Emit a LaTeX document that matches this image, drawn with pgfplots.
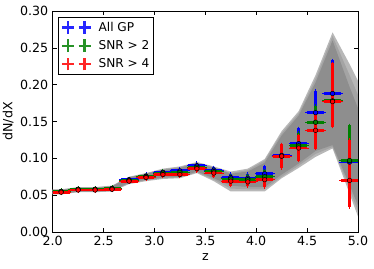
\documentclass[border=0pt]{standalone}
\usepackage{fontspec}
\setmainfont{DejaVu Sans}
\usepackage{pgfplots}
\pgfplotsset{compat=1.18}
\usepackage{pgfplotstable}

\definecolor{mplblue}{RGB}{0,0,255}
\definecolor{mplgreen}{RGB}{0,128,0}
\definecolor{mplred}{RGB}{255,0,0}
\definecolor{bandO}{RGB}{184,184,184}
\definecolor{bandM}{RGB}{164,164,164}
\definecolor{bandI}{RGB}{142,142,142}

\pgfplotstableread{
x y ex eyp eym
2.083 0.055 0.0833 0.002 0.002
2.250 0.058 0.0833 0.002 0.002
2.417 0.058 0.0833 0.002 0.002
2.583 0.059 0.0833 0.002 0.002
2.750 0.071 0.0833 0.002 0.002
2.917 0.076 0.0833 0.003 0.003
3.083 0.081 0.0833 0.003 0.003
3.250 0.083 0.0833 0.003 0.003
3.417 0.090 0.0833 0.004 0.004
3.583 0.084 0.0833 0.004 0.004
3.750 0.074 0.0833 0.005 0.005
3.917 0.073 0.0833 0.006 0.006
4.083 0.079 0.0833 0.010 0.009
4.250 0.104 0.0833 0.015 0.014
4.417 0.120 0.0833 0.021 0.020
4.583 0.162 0.0833 0.030 0.030
4.750 0.188 0.0833 0.045 0.031
4.917 0.095 0.0833 0.050 0.045
}\allgp

\pgfplotstableread{
x y ex eyp eym
2.083 0.055 0.0833 0.002 0.002
2.250 0.058 0.0833 0.002 0.002
2.417 0.058 0.0833 0.002 0.002
2.583 0.059 0.0833 0.002 0.002
2.750 0.070 0.0833 0.002 0.002
2.917 0.075 0.0833 0.003 0.003
3.083 0.080 0.0833 0.003 0.003
3.250 0.081 0.0833 0.003 0.003
3.417 0.088 0.0833 0.004 0.004
3.583 0.082 0.0833 0.004 0.004
3.750 0.072 0.0833 0.005 0.005
3.917 0.071 0.0833 0.006 0.006
4.083 0.075 0.0833 0.009 0.009
4.250 0.103 0.0833 0.015 0.015
4.417 0.117 0.0833 0.018 0.018
4.583 0.149 0.0833 0.022 0.022
4.750 0.178 0.0833 0.045 0.035
4.917 0.097 0.0833 0.048 0.048
}\snrtwo

\pgfplotstableread{
x y ex eyp eym
2.083 0.054 0.0833 0.002 0.002
2.250 0.057 0.0833 0.002 0.002
2.417 0.057 0.0833 0.002 0.002
2.583 0.058 0.0833 0.002 0.002
2.750 0.069 0.0833 0.002 0.002
2.917 0.074 0.0833 0.003 0.003
3.083 0.078 0.0833 0.003 0.003
3.250 0.078 0.0833 0.003 0.003
3.417 0.086 0.0833 0.004 0.004
3.583 0.080 0.0833 0.005 0.005
3.750 0.069 0.0833 0.006 0.006
3.917 0.068 0.0833 0.006 0.006
4.083 0.071 0.0833 0.010 0.010
4.250 0.103 0.0833 0.016 0.016
4.417 0.114 0.0833 0.017 0.017
4.583 0.138 0.0833 0.022 0.025
4.750 0.177 0.0833 0.052 0.034
4.917 0.070 0.0833 0.055 0.036
}\snrfour

\newcommand{\bigf}{\fontsize{12.7}{15}\selectfont}
\newcommand{\legf}{\fontsize{12.2}{14.5}\selectfont}

\pgfplotsset{
  ebar/.style={only marks, mark=*, mark size=2.3bp,
    mark options={fill=#1, draw=black, line width=0.5bp},
    error bars/.cd, x dir=both, x explicit, y dir=both, y explicit,
    error bar style={line width=2.8bp, #1},
    error mark options={line width=1bp, mark size=1.6bp, #1},
    /pgfplots/.cd},
  crosses/.style={legend image code/.code={
    \path[draw=none, fill=none] (-7.7bp,-6.35bp) rectangle (28.9bp,6.35bp);
    \draw[line width=2.2bp, #1, opacity=0.85] (0bp,-6.35bp)--(0bp,6.35bp) (-6bp,0bp)--(6bp,0bp)
       (16.6bp,-6.35bp)--(16.6bp,6.35bp) (10.6bp,0bp)--(22.6bp,0bp);}}
}

\begin{document}
\bigf
\begin{tikzpicture}
\begin{axis}[
  name=ax,
  scale only axis,
  width=305.3bp, height=221bp,
  xmin=2, xmax=5, ymin=0, ymax=0.30,
  xtick={2.0,2.5,3.0,3.5,4.0,4.5,5.0},
  ytick={0,0.05,0.10,0.15,0.20,0.25,0.30},
  xticklabel style={/pgf/number format/.cd, fixed, fixed zerofill, precision=1},
  yticklabel style={/pgf/number format/.cd, fixed, fixed zerofill, precision=2},
  scaled y ticks=false,
  /pgf/number format/assume math mode=true,
  tick label style={font=\bigf},
  label style={font=\bigf},
  major tick length=4bp,
  tick style={black, line width=0.5bp},
  axis line style={line width=0.8bp},
  xlabel={z}, ylabel={dN/dX},
  xlabel style={at={(axis description cs:0.5,-0.077)}, anchor=north},
  ylabel style={at={(axis description cs:-0.114,0.5)}, anchor=south},
  legend style={at={(axis description cs:0.0174,0.974)}, anchor=north west,
    draw=black, line width=0.5bp, fill=white, font=\legf,
    nodes={inner xsep=1.7bp, inner ysep=2bp, font=\legf},
    row sep=3.3bp, inner xsep=2bp, inner ysep=2.85bp},
  legend cell align=left,
]
% bands
\addplot[fill=bandO, draw=none, forget plot] coordinates {
(2.0,0.058)(2.083,0.058)(2.25,0.061)(2.417,0.061)(2.583,0.063)(2.75,0.075)(2.917,0.080)(3.083,0.086)(3.25,0.089)(3.417,0.095)(3.583,0.089)(3.75,0.082)(3.917,0.086)(4.083,0.099)(4.25,0.137)(4.417,0.164)(4.583,0.213)(4.75,0.271)(4.917,0.228)(5.0,0.205)
(5.0,0.021)(4.917,0.052)(4.75,0.1135)(4.583,0.102)(4.417,0.087)(4.25,0.073)(4.083,0.055)(3.917,0.055)(3.75,0.055)(3.583,0.069)(3.417,0.080)(3.25,0.073)(3.083,0.072)(2.917,0.069)(2.75,0.065)(2.583,0.055)(2.417,0.054)(2.25,0.054)(2.083,0.051)(2.0,0.051)
} -- cycle;
\addplot[fill=bandM, draw=none, forget plot] coordinates {
(2.0,0.0575)(2.083,0.0575)(2.25,0.0605)(2.417,0.0605)(2.583,0.0625)(2.75,0.0745)(2.917,0.0795)(3.083,0.085)(3.25,0.088)(3.417,0.094)(3.583,0.088)(3.75,0.080)(3.917,0.084)(4.083,0.097)(4.25,0.134)(4.417,0.161)(4.583,0.208)(4.75,0.266)(4.917,0.213)(5.0,0.186)
(5.0,0.028)(4.917,0.058)(4.75,0.1155)(4.583,0.106)(4.417,0.090)(4.25,0.075)(4.083,0.058)(3.917,0.058)(3.75,0.059)(3.583,0.071)(3.417,0.081)(3.25,0.074)(3.083,0.073)(2.917,0.070)(2.75,0.066)(2.583,0.0555)(2.417,0.0545)(2.25,0.0545)(2.083,0.0515)(2.0,0.0515)
} -- cycle;
\addplot[fill=bandI, draw=none, forget plot] coordinates {
(2.0,0.057)(2.083,0.057)(2.25,0.060)(2.417,0.060)(2.583,0.062)(2.75,0.074)(2.917,0.079)(3.083,0.084)(3.25,0.087)(3.417,0.093)(3.583,0.087)(3.75,0.079)(3.917,0.082)(4.083,0.094)(4.25,0.131)(4.417,0.158)(4.583,0.203)(4.75,0.260)(4.917,0.197)(5.0,0.168)
(5.0,0.036)(4.917,0.064)(4.75,0.118)(4.583,0.110)(4.417,0.093)(4.25,0.078)(4.083,0.061)(3.917,0.061)(3.75,0.063)(3.583,0.073)(3.417,0.082)(3.25,0.075)(3.083,0.074)(2.917,0.071)(2.75,0.067)(2.583,0.056)(2.417,0.055)(2.25,0.055)(2.083,0.052)(2.0,0.052)
} -- cycle;
% data
\addplot[forget plot, mplblue, ebar=mplblue] table[x=x, y=y, x error=ex, y error plus=eyp, y error minus=eym] {\allgp};
\addplot[forget plot, mplgreen, ebar=mplgreen] table[x=x, y=y, x error=ex, y error plus=eyp, y error minus=eym] {\snrtwo};
\addplot[forget plot, mplred, ebar=mplred] table[x=x, y=y, x error=ex, y error plus=eyp, y error minus=eym] {\snrfour};
% legend
\addlegendimage{crosses=mplblue}
\addlegendentry{\legf All GP}
\addlegendimage{crosses=mplgreen}
\addlegendentry{\legf SNR > 2}
\addlegendimage{crosses=mplred}
\addlegendentry{\legf SNR > 4}
\end{axis}
\pgfresetboundingbox
\path ([shift={(-52.7bp,-37bp)}]ax.south west) rectangle ([shift={(16bp,11bp)}]ax.north east);
\end{tikzpicture}
\end{document}
